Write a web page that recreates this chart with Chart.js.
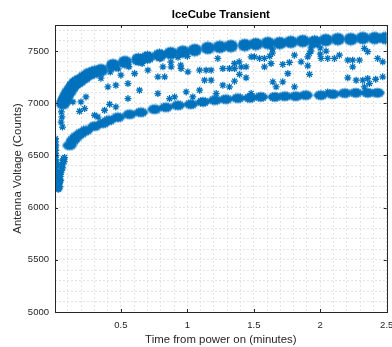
<!DOCTYPE html>
<html>
<head>
<meta charset="utf-8">
<style>
  body { margin: 0; background: #fff; }
  #wrap { width: 392px; height: 347px; }
</style>
</head>
<body>
<div id="wrap"><canvas id="chart" width="392" height="347"></canvas></div>

<script src="https://cdn.jsdelivr.net/npm/chart.js"></script>
<script>
  // time (minutes) / counts

  // dense clusters along the upper track (cluster centres)
  const upperX = [0.064, 0.075, 0.086, 0.1, 0.117, 0.135, 0.154, 0.172, 0.192, 0.225, 0.259, 0.3, 0.35, 0.44, 0.53,
    0.63, 0.70, 0.79, 0.875, 0.966, 1.056, 1.154, 1.244, 1.327, 1.432, 1.515, 1.605, 1.695, 1.778, 1.868,
    1.958, 2.042, 2.132, 2.23, 2.32, 2.41, 2.49];
  const upperY = [7000, 7030, 7058, 7095, 7125, 7160, 7190, 7205, 7220, 7250, 7280, 7300, 7317, 7365, 7395,
    7420, 7440, 7461, 7480, 7494, 7510, 7530, 7540, 7548, 7558, 7567, 7577, 7577, 7587, 7596,
    7590, 7606, 7615, 7615, 7625, 7625, 7625];

  // dense clusters along the lower track
  const lowerX = [0.114, 0.139, 0.165, 0.199, 0.237, 0.302, 0.365, 0.41, 0.477, 0.565, 0.65, 0.753, 0.838, 0.929,
    1.026, 1.117, 1.207, 1.289, 1.38, 1.47, 1.553, 1.658, 1.733, 1.815, 1.89, 2.004, 2.094, 2.184, 2.267,
    2.357, 2.43];
  const lowerY = [6596, 6644, 6680, 6712, 6740, 6780, 6808, 6837, 6865, 6894, 6913, 6942, 6961, 6980,
    6990, 7013, 7029, 7038, 7048, 7051, 7061, 7061, 7067, 7067, 7077, 7077, 7087, 7096, 7100,
    7100, 7100];

  // first seconds after power on
  const warmX = [0.004, 0.005, 0.006, 0.006, 0.007, 0.008, 0.008, 0.009, 0.010, 0.011, 0.012, 0.013, 0.014, 0.015,
    0.016, 0.018, 0.020, 0.022, 0.024, 0.026, 0.028, 0.030, 0.032, 0.034, 0.036, 0.038, 0.040, 0.043, 0.046,
    0.049, 0.052, 0.055, 0.058, 0.061, 0.064, 0.067, 0.070, 0.073, 0.076, 0.012, 0.015, 0.018, 0.021,
    0.050, 0.052, 0.060, 0.056, 0.003, 0.004, 0.005, 0.017, 0.027, 0.041, 0.047, 0.062];
  const warmY = [6300, 6380, 6450, 6520, 6580, 6630, 6660, 6600, 6550, 6500, 6460, 6420, 6380, 6340,
    6300, 6270, 6240, 6220, 6200, 6185, 6175, 6190, 6210, 6180, 6230, 6250, 6270, 6300, 6320,
    6340, 6360, 6390, 6410, 6430, 6450, 6470, 6460, 6440, 6480, 6250, 6230, 6200, 6260,
    6820, 6917, 6772, 6870, 6350, 6420, 6490, 6410, 6220, 6200, 6260, 6380];

  // single readings between the tracks
  const scatX = [0.139, 0.189, 0.199, 0.237, 0.302, 0.327, 0.377, 0.415, 0.462, 0.402, 0.462, 0.553, 0.553, 0.5,
    0.603, 0.64, 0.703, 0.778, 0.778, 0.35, 0.227, 0.816, 0.878, 0.953, 1.004, 0.829, 1.092, 1.141, 1.179,
    1.129, 1.179, 1.267, 1.317, 1.355, 1.405, 1.442, 1.392, 1.442, 1.355, 1.267, 1.317, 1.217, 1.092, 1.041,
    0.991, 0.904, 0.866, 1.48, 1.229, 1.505, 1.543, 1.58, 1.58, 1.63, 1.718, 1.768, 1.856, 1.906, 2.006,
    2.056, 2.107, 2.144, 2.207, 2.244, 2.244, 2.295, 2.432, 2.47, 1.756, 1.919, 1.643, 1.718, 1.668, 1.806,
    2.207, 2.27, 2.32, 2.357, 2.417, 2.47, 2.332, 2.37, 2.056, 1.806, 1.906, 1.919, 2.044, 2.332, 2.357,
    0.8, 0.876, 0.95, 1.355, 1.39, 1.48, 1.93, 1.93, 2.0, 2.0, 1.64, 1.64, 1.62, 0.93, 1.0, 0.56, 0.66,
    0.42, 0.48];
  const scatY = [7013, 6923, 7013, 7061, 6885, 6868, 6933, 6990, 6965, 7157, 7173, 7189, 7045, 7269,
    7285, 7125, 7317, 7253, 7093, 7240, 6949, 7349, 7349, 7333, 7301, 7253, 7317, 7317, 7317,
    7221, 7221, 7333, 7333, 7333, 7349, 7349, 7277, 7244, 7212, 7173, 7157, 7093, 7125, 7061,
    7109, 7061, 7045, 7093, 7430, 7445, 7430, 7430, 7349, 7381, 7372, 7391, 7397, 7359, 7430,
    7430, 7430, 7461, 7413, 7413, 7349, 7413, 7430, 7397, 7285, 7277, 7205, 7205, 7157, 7157,
    7244, 7221, 7221, 7237, 7230, 7253, 7157, 7189, 7109, 7461, 7445, 7478, 7500, 7526, 7494,
    7430, 7394, 7365, 7381, 7397, 7445, 7500, 7530, 7470, 7530, 7520, 7480, 7450, 7440, 7450, 7350, 7380,
    7300, 7330];

  const xMajor = [0.5, 1, 1.5, 2, 2.5];
  const yMajor = [5000, 5500, 6000, 6500, 7000, 7500];

  const blue = '#0072BD';
  const fontFam = '"Liberation Sans", Arial, Helvetica, sans-serif';
  const pts = (xs, ys) => xs.map((x, i) => ({ x, y: ys[i] }));
  const isMajor = (v, list) => list.some(m => Math.abs(m - v) < 1e-6);

  // marker for a dense clump of '*' readings
  function clumpMarker(w, h, rx, ry, spots) {
    const c = document.createElement('canvas');
    c.width = w; c.height = h;
    const g = c.getContext('2d');
    const cx = w / 2, cy = h / 2;
    g.fillStyle = blue;
    g.strokeStyle = blue;
    g.lineWidth = 1.3;
    g.beginPath();
    g.ellipse(cx, cy, rx, ry, 0, 0, Math.PI * 2);
    g.fill();
    const r = 3.3, d = r * Math.SQRT1_2;
    g.beginPath();
    spots.forEach(([ox, oy]) => {
      const x = cx + ox, y = cy + oy;
      g.moveTo(x - r, y); g.lineTo(x + r, y);
      g.moveTo(x, y - r); g.lineTo(x, y + r);
      g.moveTo(x - d, y - d); g.lineTo(x + d, y + d);
      g.moveTo(x - d, y + d); g.lineTo(x + d, y - d);
    });
    g.stroke();
    return c;
  }
  const upperMarker = clumpMarker(17, 15, 6, 5,
    [[-4, 0], [4, 0], [0, -3.5], [0, 3.5], [-3, -2.5], [3, -2.5], [-3, 2.5], [3, 2.5]]);
  const lowerMarker = clumpMarker(16, 12, 5.5, 3.6,
    [[-4, 0], [4, 0], [0, -2], [0, 2], [-2.5, -1.5], [2.5, 1.5], [-2.5, 1.5], [2.5, -1.5]]);

  const boxPlugin = {
    id: 'box',
    afterDatasetsDraw(chart) {
      const { ctx, chartArea: a, scales } = chart;
      ctx.save();
      ctx.strokeStyle = '#262626';
      ctx.lineWidth = 1;
      ctx.beginPath();
      xMajor.forEach(v => {
        const px = Math.round(scales.x.getPixelForValue(v)) + 0.5;
        ctx.moveTo(px, a.bottom); ctx.lineTo(px, a.bottom - 3);
        ctx.moveTo(px, a.top); ctx.lineTo(px, a.top + 3);
      });
      yMajor.forEach(v => {
        const py = Math.round(scales.y.getPixelForValue(v)) + 0.5;
        ctx.moveTo(a.left, py); ctx.lineTo(a.left + 3, py);
        ctx.moveTo(a.right, py); ctx.lineTo(a.right - 3, py);
      });
      ctx.stroke();
      ctx.strokeRect(Math.round(a.left) + 0.5, Math.round(a.top) + 0.5,
        Math.round(a.right - a.left), Math.round(a.bottom - a.top));
      ctx.restore();
    }
  };

  const gridOpts = { color: '#e4e4e4', lineWidth: 1, drawTicks: false };

  new Chart(document.getElementById('chart'), {
    type: 'scatter',
    data: {
      datasets: [
        { data: pts(upperX, upperY), pointStyle: upperMarker },
        { data: pts(lowerX, lowerY), pointStyle: lowerMarker },
        { data: pts(warmX, warmY), pointStyle: 'star', radius: 3.5, borderColor: blue, borderWidth: 1.3 },
        { data: pts(scatX, scatY), pointStyle: 'star', radius: 3.5, borderColor: blue, borderWidth: 1.3 }
      ]
    },
    options: {
      responsive: false,
      animation: false,
      events: [],
      layout: { padding: { left: 0, right: 2, top: 0, bottom: 0 } },
      plugins: {
        legend: { display: false },
        tooltip: { enabled: false },
        title: {
          display: true,
          text: 'IceCube Transient',
          color: '#000',
          fullSize: false,
          font: { family: fontFam, size: 11.4, weight: 'bold' },
          padding: { top: 8, bottom: 3.3 }
        }
      },
      scales: {
        x: {
          type: 'linear',
          min: 0.004,
          max: 2.5,
          grid: { ...gridOpts },
          border: { display: false, dash: [2, 2] },
          ticks: {
            stepSize: 0.1,
            includeBounds: false,
            autoSkip: false,
            maxRotation: 0,
            padding: 8,
            color: '#262626',
            font: { family: fontFam, size: 9.5 },
            callback: v => isMajor(v, xMajor) ? String(Math.round(v * 10) / 10) : ''
          },
          title: {
            display: true,
            text: 'Time from power on (minutes)',
            color: '#262626',
            font: { family: fontFam, size: 11.4 },
            padding: { top: 0, bottom: 0 }
          },
          afterFit(s) { s.height = 35; s.paddingLeft = 0; s.paddingRight = 0; }
        },
        y: {
          type: 'linear',
          min: 5000,
          max: 7750,
          grid: { ...gridOpts },
          border: { display: false, dash: [2, 2] },
          ticks: {
            stepSize: 100,
            includeBounds: false,
            autoSkip: false,
            padding: 6,
            color: '#262626',
            font: { family: fontFam, size: 9.5 },
            callback: v => isMajor(v, yMajor) ? String(v) : ''
          },
          title: {
            display: true,
            text: 'Antenna Voltage (Counts)',
            color: '#262626',
            font: { family: fontFam, size: 11.4 },
            padding: { top: 11, bottom: 0 }
          },
          afterFit(s) { s.width = 55; s.paddingTop = 0; s.paddingBottom = 0; }
        }
      }
    },
    plugins: [boxPlugin]
  });
</script>
</body>
</html>
